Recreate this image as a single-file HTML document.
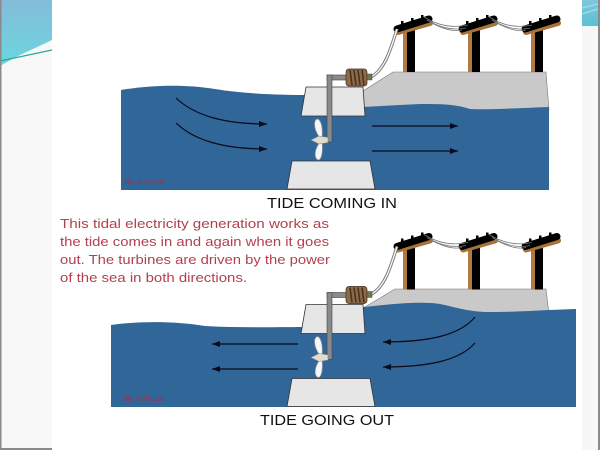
<!DOCTYPE html>
<html><head><meta charset="utf-8"><style>
html,body{margin:0;padding:0;width:600px;height:450px;overflow:hidden;background:#fff}
svg{display:block}
</style></head><body>
<svg width="600" height="450" viewBox="0 0 600 450" xmlns="http://www.w3.org/2000/svg">
<defs>
 <linearGradient id="lb" x1="0" y1="0" x2="0" y2="1"><stop offset="0" stop-color="#84bcd8"/><stop offset="1" stop-color="#6ad6e0"/></linearGradient>
 <linearGradient id="rb" x1="0" y1="0" x2="0" y2="1"><stop offset="0" stop-color="#7fc6dc"/><stop offset="1" stop-color="#5cc0d4"/></linearGradient>
 <marker id="ah" markerUnits="userSpaceOnUse" markerWidth="9" markerHeight="7" refX="8" refY="3" orient="auto">
  <path d="M0,0 L8,3 L0,6 Z" fill="#0a0a1a"/>
 </marker>
 <g id="pole">
  <rect x="403" y="27" width="5" height="45" fill="#b07a40"/>
  <rect x="407" y="24" width="8" height="48" fill="#000"/>
  <line x1="398" y1="32" x2="430" y2="23" stroke="#a87338" stroke-width="6" stroke-linecap="round"/>
  <line x1="397" y1="29" x2="429" y2="19" stroke="#000" stroke-width="7" stroke-linecap="round"/>
  <rect x="401" y="21" width="2.5" height="5" fill="#000"/>
  <rect x="411" y="18" width="2.5" height="5" fill="#000"/>
  <rect x="421" y="15" width="2.5" height="5" fill="#000"/>
 </g>
 <g id="kit">
  <use href="#pole"/>
  <use href="#pole" x="65"/>
  <use href="#pole" x="128"/>
  <!-- wires between poles -->
  <g fill="none" stroke="#777" stroke-width="0.8">
   <path d="M424,17 Q445,30 468,25"/>
   <path d="M427,20 Q447,32 466,28"/>
   <path d="M430,22 Q450,33 462,30"/>
   <path d="M489,17 Q510,30 532,25"/>
   <path d="M492,20 Q512,32 530,28"/>
   <path d="M495,22 Q515,33 526,30"/>
  </g>
  <!-- generator cable -->
  <path d="M371,77 C384,70 390,52 397,29" fill="none" stroke="#777" stroke-width="3.2"/>
  <path d="M371,77 C384,70 390,52 397,29" fill="none" stroke="#f4f4f4" stroke-width="1.4"/>
  <!-- boxes -->
  <path d="M306,87 L363,87 L365,116 L301,116 Z" fill="#e6e6e6" stroke="#333" stroke-width="0.8"/>
  <path d="M292,161 L370,161 L375,189 L287,189 Z" fill="#e6e6e6" stroke="#333" stroke-width="0.8"/>
  <!-- shaft -->
  <rect x="327" y="75" width="21" height="5" fill="#8a8a8a" stroke="#444" stroke-width="0.6"/>
  <rect x="327" y="75" width="5" height="67" fill="#8a8a8a" stroke="#444" stroke-width="0.6"/>
  <!-- coil -->
  <rect x="346" y="69" width="21" height="17" rx="3" fill="#8c6b48" stroke="#3a2a1a" stroke-width="0.7"/>
  <g stroke="#4a3220" stroke-width="1.6">
   <line x1="350" y1="70" x2="352" y2="85"/>
   <line x1="354" y1="70" x2="356" y2="85"/>
   <line x1="358" y1="70" x2="360" y2="85"/>
   <line x1="362" y1="70" x2="364" y2="85"/>
  </g>
  <rect x="367" y="74" width="5" height="6" fill="#6b7a4a" stroke="#333" stroke-width="0.4"/>
  <!-- propeller -->
  <path d="M320,138 C314,130 313,121 317,119 C321,119 323,128 322,138 Z" fill="#f6f6f6" stroke="#999" stroke-width="0.7"/>
  <path d="M320,142 C314,150 314,158 318,160 C322,160 323,150 322,142 Z" fill="#f6f6f6" stroke="#999" stroke-width="0.7"/>
  <path d="M311,140 L319,136 L328,137.5 L328,142.5 L319,144 Z" fill="#e0ddd0" stroke="#888" stroke-width="0.6"/>
 </g>
</defs>
<rect width="600" height="450" fill="#fff"/>
<!-- left margin -->
<rect x="0" y="0" width="52" height="450" fill="#f8f8f8"/>
<path d="M0,0 H52 V40 L16,57 L0,66 Z" fill="url(#lb)"/>
<path d="M0,61 L52,50" stroke="#2aa89a" stroke-width="1.2"/>
<rect x="0" y="0" width="1.5" height="450" fill="#8a8a8a"/>
<rect x="0" y="448" width="52" height="2" fill="#8a8a8a"/>
<!-- right margin -->
<rect x="582" y="0" width="18" height="450" fill="#f7f7f7"/>
<rect x="582" y="0" width="16" height="26" fill="url(#rb)"/>
<path d="M582,8 L598,4 M582,14 L598,9" stroke="#a8e0ea" stroke-width="1"/>
<rect x="598" y="0" width="2" height="450" fill="#8a8a8a"/>

<!-- TOP DIAGRAM -->
<path d="M363,91 L393,72 L546,72 L549,110 L363,110 Z" fill="#c9c9c9" stroke="#777" stroke-width="0.6"/>
<path d="M121,90 C150,85 185,84 215,89 C245,94 280,95 310,95 L340,106 L363,107 C380,106 400,105 420,104 C440,104 455,104 470,109 C490,110 520,108 549,107 L549,190 L121,190 Z" fill="#316699"/>
<use href="#kit"/>
<g fill="none" stroke="#0a0a1a" stroke-width="1.2" marker-end="url(#ah)">
 <path d="M176,98 C195,116 225,124 267,124"/>
 <path d="M176,123 C195,141 225,149 267,149"/>
 <path d="M372,126 L458,126"/>
 <path d="M372,151 L458,151"/>
</g>
<text x="124" y="184" font-family="Liberation Sans, sans-serif" font-size="7.5" fill="#a03048" textLength="40" lengthAdjust="spacingAndGlyphs">By V.Ryan</text>
<text x="267" y="208" font-family="Liberation Sans, sans-serif" font-size="15" fill="#111" textLength="130" lengthAdjust="spacingAndGlyphs">TIDE COMING IN</text>

<!-- paragraph -->
<g font-family="Liberation Sans, sans-serif" font-size="12.5" fill="#b3404e">
 <text x="60" y="228" textLength="269" lengthAdjust="spacingAndGlyphs">This tidal electricity generation works as</text>
 <text x="60" y="246" textLength="269" lengthAdjust="spacingAndGlyphs">the tide comes in and again when it goes</text>
 <text x="60" y="264" textLength="270" lengthAdjust="spacingAndGlyphs">out. The turbines are driven by the power</text>
 <text x="60" y="282" textLength="187" lengthAdjust="spacingAndGlyphs">of the sea in both directions.</text>
</g>

<!-- BOTTOM DIAGRAM -->
<path d="M365,307 L395,289 L546,289 L549,314 L365,314 Z" fill="#c9c9c9" stroke="#777" stroke-width="0.6"/>
<path d="M111,325 C140,321 175,321 205,326 C240,328 280,327 310,327 L330,307 L365,307 C390,304 420,301 440,304 C455,307 465,311 485,312 C510,312 530,311 549,310 L576,309 L576,407 L111,407 Z" fill="#316699"/>
<use href="#kit" y="217.5"/>
<g fill="none" stroke="#0a0a1a" stroke-width="1.2" marker-end="url(#ah)">
 <path d="M298,344 L212,344"/>
 <path d="M298,369 L212,369"/>
 <path d="M475,317 C460,335 430,342 383,342"/>
 <path d="M475,343 C460,360 430,367 383,367"/>
</g>
<text x="124" y="401" font-family="Liberation Sans, sans-serif" font-size="7.5" fill="#a03048" textLength="40" lengthAdjust="spacingAndGlyphs">By V.Ryan</text>
<text x="260" y="425" font-family="Liberation Sans, sans-serif" font-size="15" fill="#111" textLength="134" lengthAdjust="spacingAndGlyphs">TIDE GOING OUT</text>
</svg>
</body></html>
